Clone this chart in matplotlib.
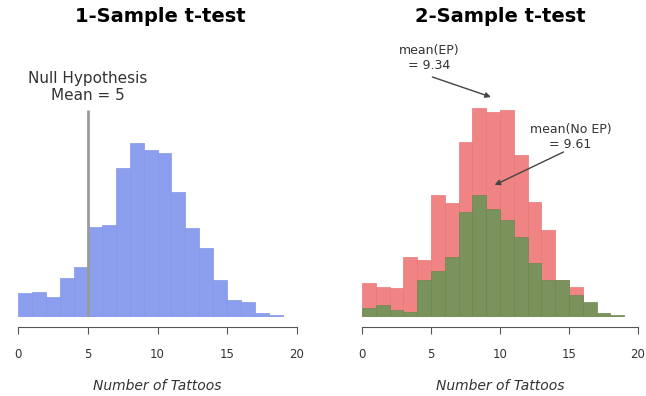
import numpy as np
import matplotlib
matplotlib.use("Agg")
import matplotlib.pyplot as plt

# histogram counts per 1-tattoo bin, starting at 0
one_sample = [24, 25, 20, 39, 50, 90, 92, 149, 174, 167, 164, 125, 89, 69, 37, 17, 15, 4, 2]
ep_counts = [34, 30, 29, 60, 57, 122, 114, 175, 209, 205, 207, 162, 115, 87, 37, 30]
no_ep_counts = [9, 12, 7, 5, 37, 46, 60, 105, 122, 108, 97, 80, 54, 37, 37, 22, 15, 4, 2]

null_mean = 5
mean_ep = 9.34
mean_no_ep = 9.61
xticks = [0, 5, 10, 15, 20]

W, H = 646, 396
fig = plt.figure(figsize=(W / 100, H / 100), dpi=100)


def px_axes(x0, x1, ytop, ybot):
  return fig.add_axes([x0 / W, 1 - ybot / H, (x1 - x0) / W, (ybot - ytop) / H])


def style(ax):
  ax.set_xlim(0, 20)
  ax.set_ylim(0, 277)
  for s in ["left", "right", "top"]:
    ax.spines[s].set_visible(False)
  ax.spines["bottom"].set_position(("outward", 7.2))
  ax.spines["bottom"].set_color("#555555")
  ax.set_yticks([])
  ax.set_xticks(xticks)
  ax.tick_params(axis="x", length=5, width=0.8, color="#555555", pad=10, labelsize=8.5, labelcolor="#333333")
  ax.set_xlabel("Number of Tattoos", fontsize=10, style="italic", color="#333333", labelpad=13)


def arrow(ax, start, tip):
  ax.annotate("", xy=tip, xytext=start, annotation_clip=False,
              arrowprops=dict(arrowstyle="-|>", color="#444444", lw=1,
                              mutation_scale=8, shrinkA=0, shrinkB=0))


# 1-sample
ax1 = px_axes(18, 297, 40, 317)
style(ax1)
ax1.bar(np.arange(len(one_sample)), one_sample, width=1, align="edge",
        color="#8C9FEE", edgecolor="#8296E6", linewidth=0.5)
ax1.plot([null_mean, null_mean], [0, 207], color="#9A9A9A", lw=2, solid_capstyle="butt")
ax1.text(null_mean, 230, "Null Hypothesis\nMean = 5", ha="center", va="center",
         fontsize=11, color="#333333", linespacing=1.1)

# 2-sample
ax2 = px_axes(362, 638, 40, 317)
style(ax2)
ax2.bar(np.arange(len(ep_counts)), ep_counts, width=1, align="edge",
        color="#F08484", edgecolor="#E87878", linewidth=0.5)
ax2.bar(np.arange(len(no_ep_counts)), no_ep_counts, width=1, align="edge",
        color="#7A925C", edgecolor="#70884F", linewidth=0.5)

ax2.text(4.9, 259, "mean(EP)\n= 9.34", ha="center", va="center",
         fontsize=9, color="#333333", linespacing=1.15)
arrow(ax2, (5.1, 240), (mean_ep, 220))
ax2.text(15.1, 180, "mean(No EP)\n= 9.61", ha="center", va="center",
         fontsize=9, color="#333333", linespacing=1.15)
arrow(ax2, (14.6, 165), (mean_no_ep, 132))

fig.text(160 / W, 1 - 17 / H, "1-Sample t-test", ha="center", va="center",
         fontsize=14, fontweight="bold")
fig.text(500 / W, 1 - 17 / H, "2-Sample t-test", ha="center", va="center",
         fontsize=14, fontweight="bold")

fig.savefig("out.png", dpi=100)
